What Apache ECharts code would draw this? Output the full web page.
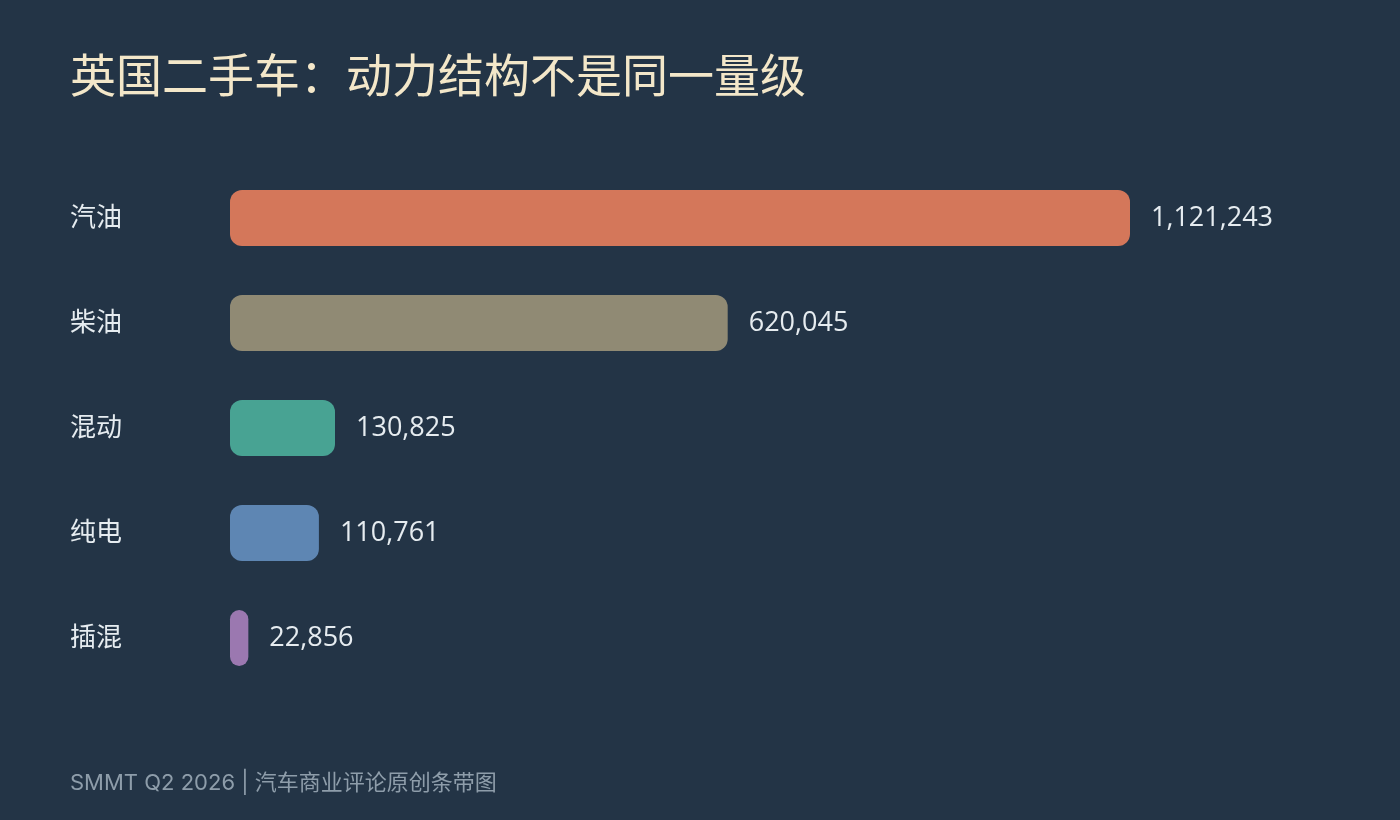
<!DOCTYPE html>
<html><head><meta charset="utf-8">
<script src="https://cdn.jsdelivr.net/npm/echarts@6/dist/echarts.min.js"></script>
<style>html,body{margin:0;padding:0;background:#233446;}#c{width:1400px;height:820px;}</style>
</head><body><div id="c"></div>
<script>
const categories = ['汽油', '柴油', '混动', '纯电', '插混'];
const values = [1121243, 620045, 130825, 110761, 22856];
const colors = ['#D4775A', '#908A74', '#48A393', '#5E86B3', '#9B78B0'];
const titleText = '英国二手车：动力结构不是同一量级';
const footerText = 'SMMT Q2 2026 | 汽车商业评论原创条带图';

const FONT = 'Inter, "Noto Sans CJK SC", "Noto Sans", sans-serif';
const NUMFONT = '"Open Sans", "Noto Sans CJK SC", sans-serif';
const chart = echarts.init(document.getElementById('c'), null, {renderer: 'canvas'});
chart.setOption({
  backgroundColor: '#233446',
  animation: false,
  title: [{
    text: titleText, left: 65, top: 50,
    textStyle: {color: '#F3E7C9', fontSize: 46, fontWeight: 'normal', fontFamily: FONT}
  }, {
    text: footerText, left: 65, top: 767,
    textStyle: {color: '#8E9DAA', fontSize: 22, fontWeight: 'normal', fontFamily: FONT}
  }],
  grid: {left: 230, width: 900, top: 165.5, height: 525},
  xAxis: {type: 'value', min: 0, max: values[0], show: false},
  yAxis: {
    type: 'category', data: categories, inverse: true,
    axisLine: {show: false}, axisTick: {show: false}, splitLine: {show: false},
    axisLabel: {color: '#E6ECF0', fontSize: 26, fontFamily: FONT, align: 'left', margin: 160}
  },
  series: [{
    type: 'bar', data: values.map((v, i) => ({value: v, itemStyle: {color: colors[i]}})),
    barWidth: 56,
    itemStyle: {borderRadius: 12},
    label: {
      show: true, position: 'right', distance: 21,
      color: '#E6ECF0', fontSize: 27, fontWeight: 'normal', fontFamily: NUMFONT,
      formatter: p => p.value.toLocaleString('en-US')
    }
  }]
});
</script></body></html>
